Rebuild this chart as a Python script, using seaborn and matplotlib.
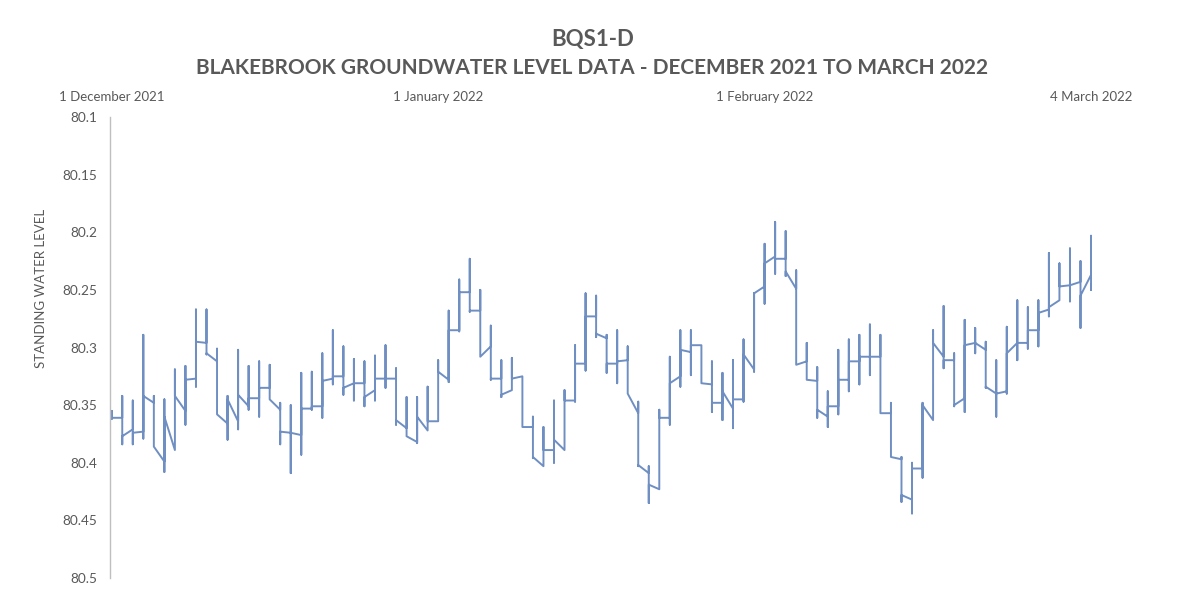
import pandas as pd
import matplotlib
matplotlib.use("Agg")
import matplotlib.pyplot as plt
import seaborn as sns

# daily readings: several per day plotted on the same date
start_date = "2021-12-01"
day_open = [
    80.361, 80.361, 80.371, 80.373, 80.348, 80.399, 80.389, 80.355, 80.327, 80.296,
    80.312, 80.366, 80.364, 80.351, 80.344, 80.335, 80.354, 80.374, 80.376, 80.353,
    80.351, 80.327, 80.325, 80.331, 80.331, 80.337, 80.327, 80.327, 80.370, 80.382,
    80.372, 80.364, 80.328, 80.285, 80.252, 80.268, 80.299, 80.327, 80.337, 80.325,
    80.369, 80.403, 80.389, 80.389, 80.346, 80.314, 80.273, 80.292, 80.314, 80.311,
    80.357, 80.409, 80.423, 80.361, 80.325, 80.304, 80.298, 80.332, 80.348, 80.353,
    80.345, 80.319, 80.247, 80.221, 80.223, 80.249, 80.312, 80.329, 80.360, 80.351,
    80.328, 80.312, 80.308, 80.308, 80.357, 80.397, 80.432, 80.405, 80.363, 80.308,
    80.311, 80.344, 80.296, 80.302, 80.340, 80.338, 80.296, 80.296, 80.285, 80.267,
    80.259, 80.246, 80.243, 80.237,
]
day_min = [
    80.355, 80.342, 80.346, 80.289, 80.342, 80.345, 80.319, 80.316, 80.267, 80.267,
    80.301, 80.342, 80.302, 80.316, 80.312, 80.315, 80.348, 80.350, 80.322, 80.321,
    80.305, 80.285, 80.299, 80.310, 80.312, 80.307, 80.298, 80.318, 80.343, 80.343,
    80.334, 80.311, 80.268, 80.241, 80.223, 80.250, 80.281, 80.311, 80.309, 80.325,
    80.360, 80.369, 80.346, 80.337, 80.298, 80.253, 80.255, 80.289, 80.285, 80.299,
    80.347, 80.403, 80.354, 80.308, 80.285, 80.285, 80.298, 80.312, 80.322, 80.311,
    80.293, 80.253, 80.210, 80.191, 80.199, 80.233, 80.296, 80.317, 80.338, 80.302,
    80.293, 80.289, 80.280, 80.289, 80.348, 80.395, 80.400, 80.348, 80.285, 80.264,
    80.305, 80.276, 80.283, 80.295, 80.311, 80.282, 80.259, 80.265, 80.259, 80.218,
    80.227, 80.214, 80.225, 80.203,
]
day_max = [
    80.362, 80.384, 80.384, 80.379, 80.386, 80.408, 80.389, 80.367, 80.334, 80.306,
    80.358, 80.380, 80.371, 80.354, 80.360, 80.345, 80.384, 80.409, 80.393, 80.354,
    80.361, 80.332, 80.341, 80.346, 80.351, 80.346, 80.335, 80.367, 80.377, 80.383,
    80.372, 80.364, 80.330, 80.286, 80.269, 80.308, 80.328, 80.343, 80.337, 80.369,
    80.396, 80.403, 80.400, 80.389, 80.347, 80.320, 80.291, 80.322, 80.331, 80.340,
    80.403, 80.435, 80.423, 80.367, 80.334, 80.324, 80.331, 80.356, 80.363, 80.370,
    80.347, 80.321, 80.262, 80.236, 80.238, 80.315, 80.328, 80.361, 80.369, 80.358,
    80.338, 80.332, 80.324, 80.357, 80.395, 80.434, 80.444, 80.413, 80.363, 80.318,
    80.351, 80.356, 80.305, 80.335, 80.360, 80.340, 80.311, 80.301, 80.299, 80.273,
    80.259, 80.260, 80.283, 80.250,
]
day_close = [
    80.361, 80.377, 80.374, 80.342, 80.386, 80.360, 80.342, 80.328, 80.295, 80.305,
    80.358, 80.345, 80.341, 80.344, 80.335, 80.345, 80.373, 80.374, 80.353, 80.351,
    80.329, 80.325, 80.335, 80.331, 80.343, 80.327, 80.327, 80.363, 80.377, 80.360,
    80.364, 80.321, 80.285, 80.252, 80.268, 80.308, 80.327, 80.341, 80.327, 80.369,
    80.395, 80.389, 80.380, 80.346, 80.314, 80.273, 80.288, 80.314, 80.312, 80.340,
    80.402, 80.419, 80.361, 80.331, 80.302, 80.298, 80.331, 80.348, 80.338, 80.345,
    80.306, 80.253, 80.227, 80.223, 80.234, 80.315, 80.328, 80.354, 80.351, 80.328,
    80.312, 80.308, 80.308, 80.357, 80.395, 80.428, 80.405, 80.350, 80.296, 80.311,
    80.350, 80.298, 80.296, 80.334, 80.340, 80.305, 80.296, 80.285, 80.270, 80.265,
    80.247, 80.246, 80.255, 80.245,
]

tick_dates = ["2021-12-01", "2022-01-01", "2022-02-01", "2022-03-04"]
tick_labels = ["1 December 2021", "1 January 2022", "1 February 2022", "4 March 2022"]
y_ticks = [80.1, 80.15, 80.2, 80.25, 80.3, 80.35, 80.4, 80.45, 80.5]
y_tick_labels = ["80.1", "80.15", "80.2", "80.25", "80.3", "80.35", "80.4", "80.45", "80.5"]

TEXT_COLOR = "#595959"
LINE_COLOR = "#6f8fc2"

dates = pd.date_range(start_date, periods=len(day_open), freq="D")
rows = []
for d, o, lo, hi, c in zip(dates, day_open, day_min, day_max, day_close):
    for v in (o, lo, hi, c):
        rows.append({"date": d, "level": v})
df = pd.DataFrame(rows)

sns.set_theme(style="white")
plt.rcParams["font.family"] = ["Lato", "DejaVu Sans"]

fig = plt.figure(figsize=(11.85, 6.07), dpi=100)
ax = fig.add_axes([0.0928, 0.0478, 0.8316, 0.7594])

sns.lineplot(data=df, x="date", y="level", sort=False, estimator=None,
             color=LINE_COLOR, linewidth=1.4, ax=ax)

ax.set_ylim(80.5, 80.1)
ax.set_xlim(pd.Timestamp("2021-12-01") - pd.Timedelta(hours=4),
            pd.Timestamp("2022-03-04") + pd.Timedelta(hours=10))
ax.set_yticks(y_ticks)
ax.set_yticklabels(y_tick_labels)
ax.set_xticks(pd.to_datetime(tick_dates))
ax.set_xticklabels(tick_labels)
ax.xaxis.tick_top()
ax.tick_params(axis="x", length=0, pad=10, labelsize=9.5, labelcolor=TEXT_COLOR)
ax.tick_params(axis="y", length=0, pad=9, labelsize=9.8, labelcolor=TEXT_COLOR)
ax.set_xlabel("")
ax.set_ylabel("STANDING WATER LEVEL", fontsize=9.5, color=TEXT_COLOR)
ax.yaxis.set_label_coords(-0.064, 0.629)

for side in ["top", "right", "bottom"]:
    ax.spines[side].set_visible(False)
ax.spines["left"].set_color("#bfbfbf")
ax.spines["left"].set_linewidth(1.0)

fig.text(0.5, 0.935, "BQS1-D", ha="center", va="center", fontsize=16,
         fontweight="bold", color=TEXT_COLOR)
fig.text(0.5, 0.888, "BLAKEBROOK GROUNDWATER LEVEL DATA - DECEMBER 2021 TO MARCH 2022",
         ha="center", va="center", fontsize=15, fontweight="bold", color=TEXT_COLOR)

fig.savefig("out.png", dpi=100)
